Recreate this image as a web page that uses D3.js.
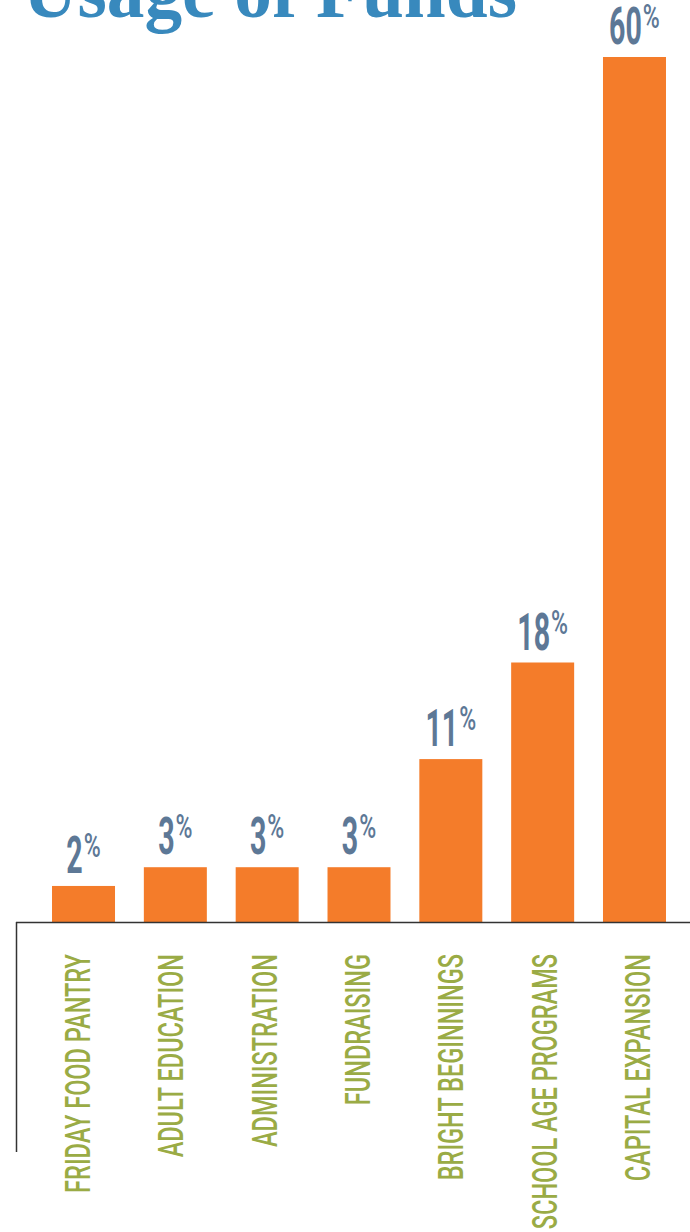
<!DOCTYPE html>
<html>
<head>
<meta charset="utf-8">
<script src="https://cdn.jsdelivr.net/npm/d3@7"></script>
<style>
  html, body { margin: 0; padding: 0; background: #ffffff; }
  svg { display: block; }
</style>
</head>
<body>
<svg id="chart" width="690" height="1232"></svg>
<script>
const title = "Usage of Funds";
const categories = ["FRIDAY FOOD PANTRY", "ADULT EDUCATION", "ADMINISTRATION", "FUNDRAISING", "BRIGHT BEGINNINGS", "SCHOOL AGE PROGRAMS", "CAPITAL EXPANSION"];
const values = [2.5, 3.8, 3.8, 3.8, 11.3, 18, 60];
const valueLabels = ["2", "3", "3", "3", "11", "18", "60"];

const svg = d3.select("#chart");

const x = d3.scaleBand()
  .domain(categories)
  .range([37.6, 680.4])
  .paddingInner(0.314)
  .paddingOuter(0.157);

const y = d3.scaleLinear().domain([0, 60]).range([922, 57]);

const xLabel = d3.scalePoint().domain(categories).range([90, 650]);

// Title (cut off at top as in reference)
svg.append("text")
  .attr("x", 23)
  .attr("y", 17)
  .attr("font-family", "'Liberation Serif', 'DejaVu Serif', serif")
  .attr("font-weight", "bold")
  .attr("font-size", 78)
  .attr("textLength", 494)
  .attr("lengthAdjust", "spacingAndGlyphs")
  .attr("fill", "#3889bd")
  .text(title);

// Bars
svg.selectAll("rect.bar")
  .data(categories)
  .join("rect")
  .attr("class", "bar")
  .attr("x", d => x(d))
  .attr("width", x.bandwidth())
  .attr("y", (d, i) => y(values[i]))
  .attr("height", (d, i) => y(0) - y(values[i]))
  .attr("fill", "#f47c2a");

// Axis lines
svg.append("line")
  .attr("x1", 16).attr("x2", 690)
  .attr("y1", y(0) + 0.5).attr("y2", y(0) + 0.5)
  .attr("stroke", "#333").attr("stroke-width", 1.5);
svg.append("line")
  .attr("x1", 16.5).attr("x2", 16.5)
  .attr("y1", y(0)).attr("y2", 1152)
  .attr("stroke", "#333").attr("stroke-width", 1.5);

// Value labels: condensed digits + superscript percent sign
const digitScale = 0.56, pctScale = 0.7, gap = 1;
const vg = svg.selectAll("g.val")
  .data(categories)
  .join("g")
  .attr("class", "val")
  .attr("transform", (d, i) => `translate(${x(d) + x.bandwidth() / 2},${y(values[i]) - 13})`);

vg.each(function (d, i) {
  const g = d3.select(this);
  const dt = g.append("text")
    .attr("font-family", "Roboto, 'Noto Sans', sans-serif")
    .attr("font-weight", 700)
    .attr("font-size", 51)
    .attr("fill", "#5d7896")
    .text(valueLabels[i]);
  const pt = g.append("text")
    .attr("font-family", "Roboto, 'Noto Sans', sans-serif")
    .attr("font-weight", 500)
    .attr("font-size", 33)
    .attr("fill", "#5d7896")
    .text("%");
  const wd = dt.node().getComputedTextLength() * digitScale;
  const wp = pt.node().getComputedTextLength() * pctScale;
  const start = -(wd + gap + wp) / 2;
  dt.attr("transform", `translate(${start},0) scale(${digitScale},1)`);
  pt.attr("transform", `translate(${start + wd + gap},-16) scale(${pctScale},1)`);
});

// Category labels (rotated)
const cg = svg.selectAll("g.cat")
  .data(categories)
  .join("g")
  .attr("class", "cat")
  .attr("transform", d => `translate(${xLabel(d)},954) rotate(-90)`);

const ct = cg.append("text")
  .attr("text-anchor", "end")
  .attr("font-family", "Roboto, 'Noto Sans', sans-serif")
  .attr("font-weight", 500)
  .attr("font-size", 35)
  .attr("fill", "#9aab45")
  .text(d => d);

// condense labels along their length to match reference narrow type
const natural = ct.node().getComputedTextLength();
const k = 239 / natural;
ct.attr("transform", `scale(${k},1)`);
</script>
</body>
</html>
